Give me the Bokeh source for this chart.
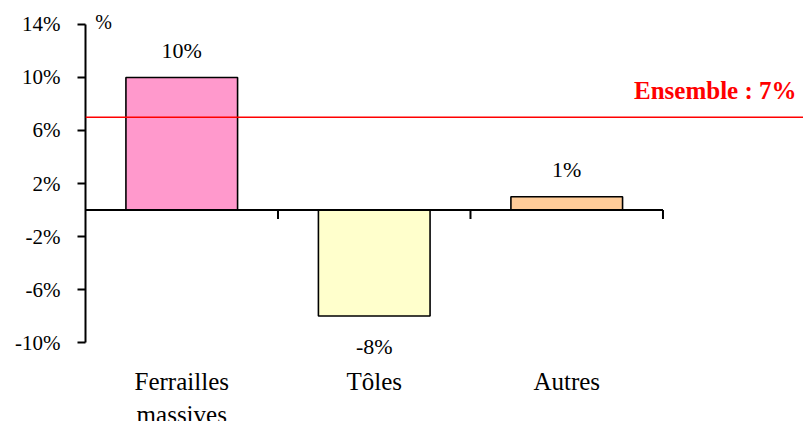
from bokeh.plotting import figure
from bokeh.models import Range1d, Span, FixedTicker, Label, PrintfTickFormatter
from bokeh.embed import file_html
from bokeh.resources import INLINE
from bokeh.core.properties import value

# ---- data ----
categories = ["Ferrailles\nmassives", "Tôles", "Autres"]
values = [10, -8, 1]
bar_colors = ["#FF99CC", "#FFFFCC", "#FFCC99"]
value_labels = ["10%", "-8%", "1%"]
y_ticks = [-10, -6, -2, 2, 6, 10, 14]
ensemble = 7
ensemble_label = "Ensemble : 7%"
unit_label = "%"

FONT = "Liberation Serif"
n = len(categories)
xs = [i + 0.5 for i in range(n)]
y_lo, y_hi = min(y_ticks), max(y_ticks)

p = figure(width=803, height=421, output_backend="svg", toolbar_location=None,
           x_range=Range1d(0, 3.73), y_range=Range1d(-15.96, 15.81),
           min_border_left=85, min_border_right=0, min_border_top=0,
           min_border_bottom=0)
p.outline_line_color = None
p.grid.visible = False
p.xaxis.visible = False

# y axis
ya = p.yaxis[0]
ya.ticker = FixedTicker(ticks=y_ticks, minor_ticks=[])
ya.formatter = PrintfTickFormatter(format="%d%%")
ya.bounds = (y_lo, y_hi)
ya.axis_line_width = 2
ya.axis_line_color = "black"
ya.major_tick_out = 8
ya.major_tick_in = 0
ya.major_tick_line_width = 2
ya.minor_tick_line_color = None
ya.major_label_standoff = 17
ya.major_label_text_font = FONT
ya.major_label_text_font_size = "21px"
ya.major_label_text_color = "black"

# bars
p.vbar(x=xs, top=values, bottom=0, width=0.58, fill_color=bar_colors,
       line_color="black", line_width=1.6)

# category axis line at zero with boundary ticks
bounds_x = list(range(1, n + 1))
p.segment(x0=[0], y0=[0], x1=[n], y1=[0], line_color="black", line_width=2)
p.segment(x0=bounds_x, y0=[0] * n, x1=bounds_x, y1=[-0.68] * n,
          line_color="black", line_width=2)

# category labels under the plot
p.text(x=xs, y=[y_lo] * n, text=categories, y_offset=25,
       text_align="center", text_baseline="top", text_line_height=1.25,
       text_font=value(FONT), text_font_size="25px", text_color="black")

# value labels
offs = [-27 if v >= 0 else 30 for v in values]
p.text(x=xs, y=values, text=value_labels, y_offset=offs,
       text_align="center", text_baseline="alphabetic",
       text_font=value(FONT), text_font_size="22px", text_color="black")

# ensemble line
p.add_layout(Span(location=ensemble, dimension="width", line_color="#FF0000",
                  line_width=1.6))
p.add_layout(Label(x=3.73, y=ensemble, x_offset=-7, y_offset=27,
                   text=ensemble_label, text_align="right",
                   text_baseline="alphabetic", text_color="#FF0000",
                   text_font=FONT, text_font_style="bold",
                   text_font_size="25px"))

# unit label
p.add_layout(Label(x=0, y=y_hi, x_offset=18, y_offset=2,
                   text=unit_label, text_align="center",
                   text_baseline="middle", text_color="black",
                   text_font=FONT, text_font_size="20px"))

open("out.html", "w").write(file_html(p, INLINE))
